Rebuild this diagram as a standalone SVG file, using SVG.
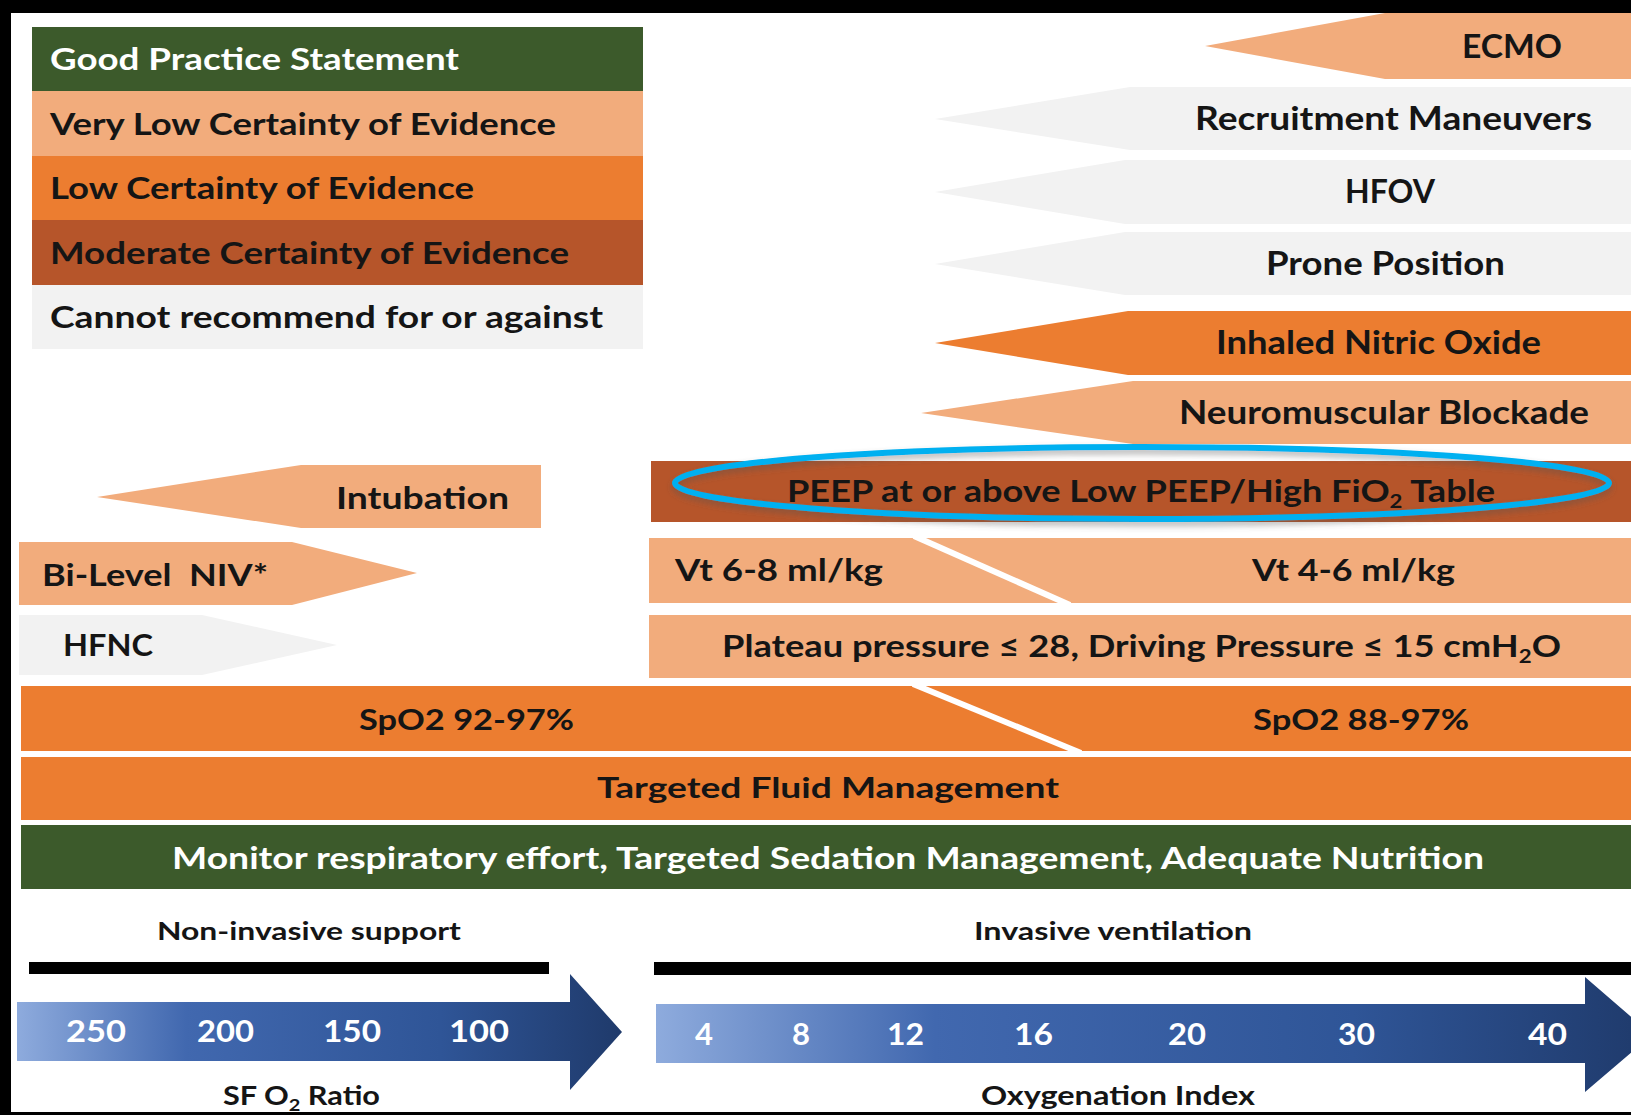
<svg xmlns="http://www.w3.org/2000/svg" width="1631" height="1115" viewBox="0 0 1631 1115">
<defs>
<style>
.t{font-family:Lato,"Open Sans","Liberation Sans",sans-serif;font-weight:bold;fill:#151515}
.w{fill:#ffffff}
.f30{font-size:31px}
.f31{font-size:32px}
.f28{font-size:29px}
.f25{font-size:25px}
.f26{font-size:26px}
.g{fill:#3C5A2B}
.vl{fill:#F2AC7C}
.lo{fill:#EC7D30}
.mo{fill:#B6552A}
.cn{fill:#F2F2F2}
.blk{fill:#000000}
.cut{stroke:#ffffff;stroke-width:6;fill:none}
</style>
<linearGradient id="blue" x1="0" y1="0" x2="1" y2="0">
<stop offset="0" stop-color="#8EABDD"/>
<stop offset="0.28" stop-color="#4168AF"/>
<stop offset="0.7" stop-color="#2F5597"/>
<stop offset="1" stop-color="#1F3A6B"/>
</linearGradient>
<filter id="sh" x="-5%" y="-30%" width="110%" height="160%">
<feDropShadow dx="0" dy="4" stdDeviation="3" flood-color="#555555" flood-opacity="0.45"/>
</filter>
</defs>
<rect width="1631" height="1115" fill="#ffffff"/>
<g id="frame">
<rect class="blk" x="0" y="0" width="1631" height="13"/>
<rect class="blk" x="0" y="0" width="11" height="1115"/>
<rect class="blk" x="0" y="1112" width="1631" height="3"/>
</g>
<g id="legend">
<g id="legend-gps"><rect class="g" x="32" y="27" width="611" height="64"/><text class="t w f30" x="50" y="70" textLength="409" lengthAdjust="spacingAndGlyphs">Good Practice Statement</text></g>
<g id="legend-vlow"><rect class="vl" x="32" y="91" width="611" height="65"/><text class="t f30" x="50" y="135" textLength="506" lengthAdjust="spacingAndGlyphs">Very Low Certainty of Evidence</text></g>
<g id="legend-low"><rect class="lo" x="32" y="156" width="611" height="64"/><text class="t f30" x="50" y="199" textLength="424" lengthAdjust="spacingAndGlyphs">Low Certainty of Evidence</text></g>
<g id="legend-mod"><rect class="mo" x="32" y="220" width="611" height="65"/><text class="t f30" x="50" y="264" textLength="519" lengthAdjust="spacingAndGlyphs">Moderate Certainty of Evidence</text></g>
<g id="legend-cannot"><rect class="cn" x="32" y="285" width="611" height="64"/><text class="t f30" x="50" y="328" textLength="553" lengthAdjust="spacingAndGlyphs">Cannot recommend for or against</text></g>
</g>
<g id="ecmo"><polygon class="vl" points="1205,46 1385,13 1631,13 1631,79 1385,79"/><text class="t f31" x="1462" y="58" textLength="100" lengthAdjust="spacingAndGlyphs">ECMO</text></g>
<g id="recruitment"><polygon class="cn" points="935,119 1130,87 1631,87 1631,150 1130,150"/><text class="t f31" x="1195" y="130" textLength="397" lengthAdjust="spacingAndGlyphs">Recruitment Maneuvers</text></g>
<g id="hfov"><polygon class="cn" points="935,192 1125,160 1631,160 1631,224 1125,224"/><text class="t f31" x="1345" y="203" textLength="90" lengthAdjust="spacingAndGlyphs">HFOV</text></g>
<g id="prone"><polygon class="cn" points="935,264 1125,232 1631,232 1631,295 1125,295"/><text class="t f31" x="1266" y="275" textLength="239" lengthAdjust="spacingAndGlyphs">Prone Position</text></g>
<g id="ino"><polygon class="lo" points="935,343 1128,311 1631,311 1631,375 1128,375"/><text class="t f31" x="1216" y="354" textLength="325" lengthAdjust="spacingAndGlyphs">Inhaled Nitric Oxide</text></g>
<g id="nmb"><polygon class="vl" points="921,413 1133,381 1631,381 1631,444 1133,444"/><text class="t f31" x="1179" y="424" textLength="410" lengthAdjust="spacingAndGlyphs">Neuromuscular Blockade</text></g>
<g id="peep"><rect class="mo" x="651" y="461" width="980" height="61"/><text class="t f30" x="787" y="502" textLength="708" lengthAdjust="spacingAndGlyphs">PEEP at or above Low PEEP/High FiO<tspan dy="6" font-size="19">2</tspan><tspan dy="-6"> Table</tspan></text></g>
<g id="highlight"><ellipse cx="1142" cy="483" rx="467" ry="36" fill="none" stroke="#00B0F0" stroke-width="6" filter="url(#sh)"/></g>
<g id="vt"><rect class="vl" x="649" y="538" width="982" height="65"/><line class="cut" x1="914" y1="536" x2="1070" y2="605"/><text class="t f30" x="675" y="581" textLength="208" lengthAdjust="spacingAndGlyphs">Vt 6-8 ml/kg</text><text class="t f30" x="1252" y="581" textLength="203" lengthAdjust="spacingAndGlyphs">Vt 4-6 ml/kg</text></g>
<g id="plateau"><rect class="vl" x="649" y="615" width="982" height="63"/><text class="t f30" x="722" y="657" textLength="839" lengthAdjust="spacingAndGlyphs">Plateau pressure ≤ 28, Driving Pressure ≤ 15 cmH<tspan dy="6" font-size="19">2</tspan><tspan dy="-6">O</tspan></text></g>
<g id="intubation"><polygon class="vl" points="97,497 301,465 541,465 541,528 301,528"/><text class="t f30" x="336" y="509" textLength="173" lengthAdjust="spacingAndGlyphs">Intubation</text></g>
<g id="bilevel"><polygon class="vl" points="19,542 292,542 417,573 292,605 19,605"/><text class="t f30" x="42" y="586" textLength="226" lengthAdjust="spacingAndGlyphs" style="white-space:pre">Bi-Level  NIV*</text></g>
<g id="hfnc"><polygon class="cn" points="19,615 202,615 337,645 202,675 19,675"/><text class="t f30" x="63" y="656" textLength="90" lengthAdjust="spacingAndGlyphs">HFNC</text></g>
<g id="spo2"><rect class="lo" x="21" y="686" width="1610" height="65"/><line class="cut" x1="913" y1="684" x2="1081" y2="753"/><text class="t f28" x="359" y="730" textLength="215" lengthAdjust="spacingAndGlyphs">SpO2 92-97%</text><text class="t f28" x="1253" y="730" textLength="216" lengthAdjust="spacingAndGlyphs">SpO2 88-97%</text></g>
<g id="fluid"><rect class="lo" x="21" y="757" width="1610" height="63"/><text class="t f28" x="597" y="798" textLength="462" lengthAdjust="spacingAndGlyphs">Targeted Fluid Management</text></g>
<g id="monitor"><rect class="g" x="21" y="825" width="1610" height="64"/><text class="t w f30" x="172" y="869" textLength="1312" lengthAdjust="spacingAndGlyphs">Monitor respiratory effort, Targeted Sedation Management, Adequate Nutrition</text></g>
<g id="noninvasive">
<text class="t f25" x="157" y="940" textLength="304" lengthAdjust="spacingAndGlyphs">Non-invasive support</text>
<rect class="blk" x="29" y="962" width="520" height="12"/>
<polygon fill="url(#blue)" points="17,1002 570,1002 570,974 622,1032 570,1090 570,1061 17,1061"/>
<text class="t w f30" x="66" y="1042" textLength="60" lengthAdjust="spacingAndGlyphs">250</text>
<text class="t w f30" x="197" y="1042" textLength="57" lengthAdjust="spacingAndGlyphs">200</text>
<text class="t w f30" x="323" y="1042" textLength="58" lengthAdjust="spacingAndGlyphs">150</text>
<text class="t w f30" x="449" y="1042" textLength="60" lengthAdjust="spacingAndGlyphs">100</text>
<text class="t f26" x="223" y="1105" textLength="157" lengthAdjust="spacingAndGlyphs">SF O<tspan dy="6" font-size="17">2</tspan><tspan dy="-6"> Ratio</tspan></text>
</g>
<g id="invasive">
<text class="t f25" x="974" y="940" textLength="278" lengthAdjust="spacingAndGlyphs">Invasive ventilation</text>
<rect class="blk" x="654" y="962" width="977" height="13"/>
<polygon fill="url(#blue)" points="656,1004 1585,1004 1585,977 1652,1035 1585,1092 1585,1063 656,1063"/>
<text class="t w f30" x="695" y="1045" textLength="18" lengthAdjust="spacingAndGlyphs">4</text>
<text class="t w f30" x="792" y="1045" textLength="18" lengthAdjust="spacingAndGlyphs">8</text>
<text class="t w f30" x="887" y="1045" textLength="37" lengthAdjust="spacingAndGlyphs">12</text>
<text class="t w f30" x="1014" y="1045" textLength="39" lengthAdjust="spacingAndGlyphs">16</text>
<text class="t w f30" x="1168" y="1045" textLength="38" lengthAdjust="spacingAndGlyphs">20</text>
<text class="t w f30" x="1338" y="1045" textLength="37" lengthAdjust="spacingAndGlyphs">30</text>
<text class="t w f30" x="1528" y="1045" textLength="39" lengthAdjust="spacingAndGlyphs">40</text>
<text class="t f26" x="981" y="1105" textLength="274" lengthAdjust="spacingAndGlyphs">Oxygenation Index</text>
</g>
</svg>
